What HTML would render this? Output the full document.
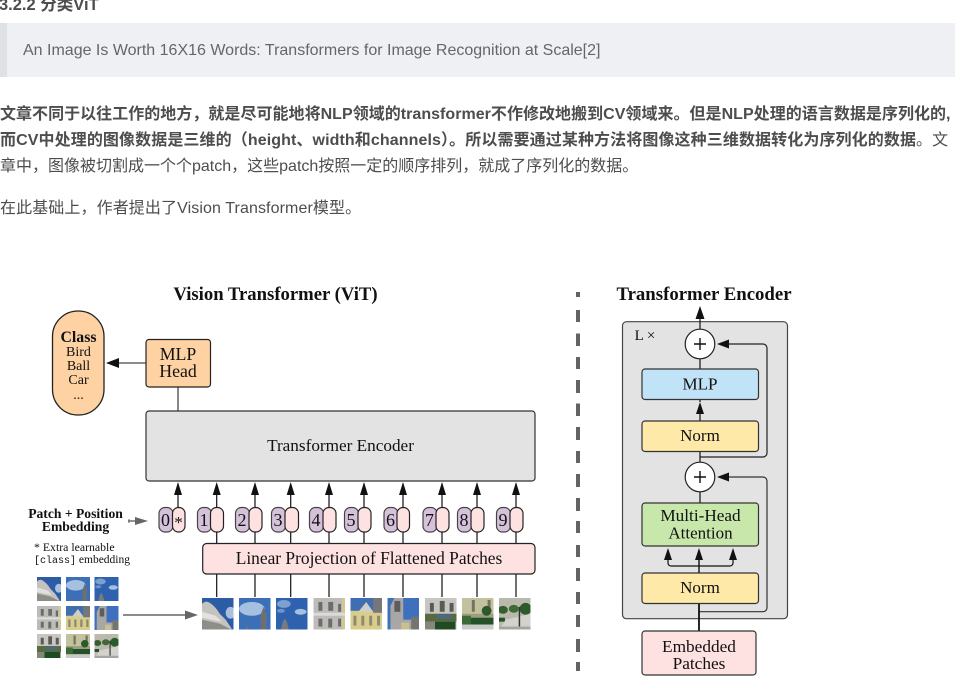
<!DOCTYPE html>
<html lang="zh">
<head>
<meta charset="utf-8">
<style>
html,body{margin:0;padding:0;background:#fff;}
body{width:955px;height:691px;overflow:hidden;position:relative;font-family:"Liberation Sans","Noto Sans CJK SC",sans-serif;color:#4d4d4d;}
.l{position:absolute;white-space:nowrap;font-size:16px;line-height:26px;}
b{font-weight:700;}
#q{position:absolute;left:0;top:23px;width:955px;height:54px;background:#eef0f4;}
#q i{position:absolute;left:0;top:0;width:7px;height:54px;background:#dfe2e5;}
svg{position:absolute;left:0;top:0;filter:blur(.35px);}
svg text{font-family:"Liberation Serif",serif;fill:#111;text-anchor:middle;}
</style>
</head>
<body>
<div class="l" style="left:-1px;top:-8px;font-weight:700;font-size:16.500px;">3.2.2 分类ViT</div>
<div id="q"><i></i></div>
<div class="l" style="left:23px;top:38px;color:#666;">An Image Is Worth 16X16 Words: Transformers for Image Recognition at Scale[2]</div>
<div class="l" style="left:0;top:102px;font-weight:700;letter-spacing:.03px;">文章不同于以往工作的地方，就是尽可能地将NLP领域的transformer不作修改地搬到CV领域来。但是NLP处理的语言数据是序列化的,</div>
<div class="l" style="left:0;top:128px;letter-spacing:.1px;"><b>而CV中处理的图像数据是三维的（height、width和channels）。所以需要通过某种方法将图像这种三维数据转化为序列化的数据</b>。文</div>
<div class="l" style="left:0;top:154px;">章中，图像被切割成一个个patch，这些patch按照一定的顺序排列，就成了序列化的数据。</div>
<div class="l" style="left:0;top:196px;letter-spacing:.1px;">在此基础上，作者提出了Vision Transformer模型。</div>

<svg width="955" height="691" viewBox="0 0 955 691" xmlns="http://www.w3.org/2000/svg">
<defs>
<symbol id="p1" viewBox="0 0 32 32"><rect width="32" height="32" fill="#2c5ca6"/><ellipse cx="29" cy="15" rx="5" ry="6" fill="#a9c0dc"/><path d="M0 6 Q4 2 8 5 Q14 9 18 16 L24 22 L30 31 V32 H0Z" fill="#c4c3bf"/><path d="M0 22 L18 26 L30 32 H0Z" fill="#8f8d88"/><path d="M0 14 L14 18 L20 24 L0 20Z" fill="#e4e2dc"/></symbol>
<symbol id="p2" viewBox="0 0 32 32"><rect width="32" height="32" fill="#3b6fb8"/><ellipse cx="13" cy="11" rx="13" ry="7" fill="#a6c1e0"/><path d="M22 32 V17 L25 9 L28 17 V32Z" fill="#6d6f70"/><path d="M7 32 L8 26 L9 32Z" fill="#77746f"/></symbol>
<symbol id="p3" viewBox="0 0 32 32"><rect width="32" height="32" fill="#2f62ae"/><ellipse cx="8" cy="6" rx="7" ry="4" fill="#7da0cf"/><ellipse cx="25" cy="14" rx="6" ry="3" fill="#a6c1e0"/><ellipse cx="5" cy="13" rx="4" ry="2" fill="#6e95c9"/><path d="M5 32 L7 24 L9 21 L11 24 L13 32Z" fill="#787b7e"/></symbol>
<symbol id="p4" viewBox="0 0 32 32"><rect width="32" height="32" fill="#bdbcb9"/><rect x="29" width="3" height="32" fill="#d3c88f"/><g fill="#6b6c6c"><rect x="5" y="4" width="4" height="9"/><rect x="15" y="4" width="5" height="9"/><rect x="25" y="6" width="3" height="8"/><rect x="5" y="21" width="4" height="8"/><rect x="15" y="21" width="4" height="9"/><rect x="25" y="21" width="3" height="8"/></g><rect y="15" width="32" height="3" fill="#dcdbd8"/></symbol>
<symbol id="p5" viewBox="0 0 32 32"><rect width="32" height="32" fill="#d9cd8e"/><rect width="32" height="13" fill="#3f6fb0"/><path d="M8 14 L16 4 L23 14Z" fill="#cfcfc8"/><rect x="23" y="0" width="9" height="15" fill="#77777a"/><g fill="#8d8a70"><rect x="3" y="18" width="3" height="10"/><rect x="11" y="18" width="3" height="10"/><rect x="19" y="18" width="3" height="10"/><rect x="27" y="18" width="3" height="10"/></g></symbol>
<symbol id="p6" viewBox="0 0 32 32"><rect width="32" height="32" fill="#3e70bd"/><path d="M3 32 V8 L7 0 H16 V22 H32 V32Z" fill="#a8a7a3"/><rect x="7" y="3" width="6" height="11" fill="#5c5d60"/><rect x="24" y="19" width="8" height="13" fill="#75756f"/><rect x="14" y="25" width="8" height="7" fill="#c9c092"/></symbol>
<symbol id="p7" viewBox="0 0 32 32"><rect width="32" height="32" fill="#c8c6c0"/><rect x="5" y="5" width="4" height="9" fill="#5a5a58"/><rect x="15" y="3" width="5" height="11" fill="#5a5a58"/><rect x="25" y="5" width="4" height="9" fill="#5a5a58"/><rect y="16" width="32" height="8" fill="#586a3f"/><rect x="12" y="17" width="15" height="4" fill="#496a86"/><rect x="10" y="24" width="21" height="8" fill="#1f4a22"/><rect y="24" width="10" height="8" fill="#85877a"/></symbol>
<symbol id="p8" viewBox="0 0 32 32"><rect width="32" height="32" fill="#c4c19e"/><rect x="10" y="2" width="3" height="12" fill="#73735f"/><rect x="26" y="2" width="3" height="12" fill="#73735f"/><rect y="16" width="32" height="4" fill="#9ba080"/><ellipse cx="25" cy="13" rx="5" ry="5" fill="#2d5a2c"/><rect y="20" width="32" height="7" fill="#24512a"/><rect x="0" y="18" width="9" height="9" fill="#3b6a37"/><rect y="27" width="32" height="5" fill="#c9cbc6"/></symbol>
<symbol id="p9" viewBox="0 0 32 32"><rect width="32" height="32" fill="#b9b9ae"/><ellipse cx="4" cy="12" rx="5" ry="4" fill="#375f2e"/><ellipse cx="15" cy="11" rx="5" ry="4" fill="#3f6a33"/><ellipse cx="27" cy="11" rx="6" ry="6" fill="#2d5a2c"/><path d="M0 20 H6 V24 H0Z" fill="#274f29"/><path d="M0 32 L7 22 L32 16 V32Z" fill="#d3d2cb"/><rect x="20" y="9" width="1.500" height="20" fill="#333"/><rect y="29" width="32" height="3" fill="#a5a6a4"/></symbol>
</defs>

<!-- divider -->
<path d="M578 292V297M578 310V322M578 333.500V346M578 357V369M578 380V393M578 403.500V416M578 427V440M578 451V463M578 474V487M578 498V511M578 521V533M578 545V557M578 568V581M578 592V604M578 615V627M578 639V652M578 662V671" stroke="#636363" stroke-width="4" fill="none"/>

<!-- titles -->
<text x="275.500" y="300" font-size="18.700" font-weight="700">Vision Transformer (ViT)</text>
<text x="704" y="300" font-size="18.800" font-weight="700">Transformer Encoder</text>

<!-- class pill -->
<rect x="52.500" y="311" width="51.500" height="104" rx="25.500" fill="#fed2a2" stroke="#222" stroke-width="1.300"/>
<text x="78.500" y="342" font-size="15.800" font-weight="700">Class</text>
<text x="78.500" y="356" font-size="14">Bird</text>
<text x="78.500" y="370" font-size="14">Ball</text>
<text x="78.500" y="384" font-size="14">Car</text>
<text x="78.500" y="399" font-size="14">...</text>

<!-- MLP head -->
<line x1="146" y1="363" x2="116" y2="363" stroke="#666" stroke-width="1.600"/>
<path d="M106 363 L119 358 V368Z" fill="#111"/>
<line x1="178" y1="387" x2="178" y2="411" stroke="#555" stroke-width="1.400"/>
<rect x="146" y="339.500" width="64.500" height="47.500" rx="3" fill="#fed2a2" stroke="#222" stroke-width="1.200"/>
<text x="178" y="360" font-size="17.800">MLP</text>
<text x="178" y="377" font-size="17.800">Head</text>

<!-- encoder -->
<rect x="146" y="411" width="389" height="70" rx="3" fill="#e3e3e3" stroke="#333" stroke-width="1.200"/>
<text x="340.500" y="451" font-size="17.200">Transformer Encoder</text>

<!-- arrows above tokens and lines to patches -->
<g stroke="#111" stroke-width="1.200" fill="none">
<path d="M178 495V508M216.700 495V508M255 495V508M290.700 495V508M329 495V508M364 495V508M403 495V508M442 495V508M477 495V508M516 495V508"/>
<path d="M216.700 532V543M255 532V543M290.700 532V543M329 532V543M364 532V543M403 532V543M442 532V543M477 532V543M516 532V543"/>
<path d="M216.700 574V597M255 574V597M290.700 574V597M329 574V597M364 574V597M403 574V597M442 574V597M477 574V597M516 574V597"/>
</g>
<g fill="#111">
<path d="M178 482l-4 13h8z"/><path d="M216.700 482l-4 13h8z"/><path d="M255 482l-4 13h8z"/><path d="M290.700 482l-4 13h8z"/><path d="M329 482l-4 13h8z"/><path d="M364 482l-4 13h8z"/><path d="M403 482l-4 13h8z"/><path d="M442 482l-4 13h8z"/><path d="M477 482l-4 13h8z"/><path d="M516 482l-4 13h8z"/>
</g>

<!-- tokens -->
<g stroke-width="1.200">
<g fill="#d5c1d9" stroke="#444">
<rect x="159" y="507.500" width="14" height="24.500" rx="6"/>
<rect x="197.500" y="507.500" width="14" height="24.500" rx="6"/>
<rect x="235.500" y="507.500" width="14" height="24.500" rx="6"/>
<rect x="271.500" y="507.500" width="14" height="24.500" rx="6"/>
<rect x="309.500" y="507.500" width="14" height="24.500" rx="6"/>
<rect x="344.500" y="507.500" width="14" height="24.500" rx="6"/>
<rect x="384" y="507.500" width="14" height="24.500" rx="6"/>
<rect x="423" y="507.500" width="14" height="24.500" rx="6"/>
<rect x="457.500" y="507.500" width="14" height="24.500" rx="6"/>
<rect x="496.500" y="507.500" width="14" height="24.500" rx="6"/>
</g>
<g fill="#fee1e1" stroke="#222">
<rect x="172.500" y="507.500" width="12.500" height="24.500" rx="6"/>
<rect x="210.500" y="507.500" width="13" height="24.500" rx="6"/>
<rect x="249" y="507.500" width="13" height="24.500" rx="6"/>
<rect x="285" y="507.500" width="13.500" height="24.500" rx="6"/>
<rect x="323" y="507.500" width="13" height="24.500" rx="6"/>
<rect x="358" y="507.500" width="13" height="24.500" rx="6"/>
<rect x="397" y="507.500" width="12.500" height="24.500" rx="6"/>
<rect x="436" y="507.500" width="13" height="24.500" rx="6"/>
<rect x="471" y="507.500" width="13" height="24.500" rx="6"/>
<rect x="510" y="507.500" width="13" height="24.500" rx="6"/>
</g>
</g>
<g font-size="18">
<text x="165.500" y="526">0</text>
<text x="204" y="526">1</text>
<text x="242" y="526">2</text>
<text x="278" y="526">3</text>
<text x="316" y="526">4</text>
<text x="351" y="526">5</text>
<text x="390.500" y="526">6</text>
<text x="429.500" y="526">7</text>
<text x="464" y="526">8</text>
<text x="503" y="526">9</text>
<text x="178.500" y="528" font-size="17">*</text>
</g>

<!-- linear projection -->
<rect x="202.700" y="543.500" width="332.300" height="30.500" rx="4" fill="#fee1e1" stroke="#222" stroke-width="1.200"/>
<text x="369" y="564" font-size="17.400">Linear Projection of Flattened Patches</text>

<!-- left labels -->
<text x="75.500" y="518" font-size="13.600" font-weight="700">Patch + Position</text>
<text x="75.500" y="531" font-size="13.600" font-weight="700">Embedding</text>
<text x="34" y="551" font-size="11.800" style="text-anchor:start">* Extra learnable</text>
<text x="34" y="563" font-size="11.500" style="text-anchor:start"><tspan font-family="Liberation Mono" font-size="10">[class]</tspan> embedding</text>
<line x1="128" y1="521" x2="140" y2="521" stroke="#666" stroke-width="1.400"/>
<line x1="129" y1="519" x2="129" y2="523" stroke="#666" stroke-width="1"/>
<path d="M148 521 L135 517 V525Z" fill="#666"/>

<!-- grid patches -->
<use href="#p1" x="37" y="577" width="24" height="24"/>
<use href="#p2" x="66" y="577" width="24" height="24"/>
<use href="#p3" x="94.500" y="577" width="24" height="24"/>
<use href="#p4" x="37" y="606" width="24" height="24"/>
<use href="#p5" x="66" y="606" width="24" height="24"/>
<use href="#p6" x="94.500" y="606" width="24" height="24"/>
<use href="#p7" x="37" y="634" width="24" height="24"/>
<use href="#p8" x="66" y="634" width="24" height="24"/>
<use href="#p9" x="94.500" y="634" width="24" height="24"/>
<line x1="123" y1="615" x2="187" y2="615" stroke="#666" stroke-width="1.400"/>
<path d="M198 615 L185 610.500 V619.500Z" fill="#666"/>

<!-- patch sequence -->
<use href="#p1" x="202" y="598" width="31.500" height="31.500"/>
<use href="#p2" x="239" y="598" width="31.500" height="31.500"/>
<use href="#p3" x="276" y="598" width="31.500" height="31.500"/>
<use href="#p4" x="313.500" y="598" width="31.500" height="31.500"/>
<use href="#p5" x="350.500" y="598" width="31.500" height="31.500"/>
<use href="#p6" x="387.500" y="598" width="31.500" height="31.500"/>
<use href="#p7" x="425" y="598" width="31.500" height="31.500"/>
<use href="#p8" x="462" y="598" width="31.500" height="31.500"/>
<use href="#p9" x="499" y="598" width="31.500" height="31.500"/>

<!-- right encoder -->
<rect x="622.500" y="321.700" width="165" height="297" rx="4" fill="#e3e3e3" stroke="#444" stroke-width="1.200"/>
<text x="645" y="340" font-size="15">L ×</text>
<line x1="700" y1="318" x2="700" y2="329" stroke="#111" stroke-width="1.200"/>
<path d="M700 306l-4.500 13h9z" fill="#111"/>
<path d="M727 344H763a4 4 0 0 1 4 4V453a4 4 0 0 1-4 4H700" fill="none" stroke="#222" stroke-width="1.200"/>
<path d="M717 344l12-4.500v9z" fill="#111"/>
<path d="M727 477H763a4 4 0 0 1 4 4V607.700a4 4 0 0 1-4 4H699" fill="none" stroke="#333" stroke-width="1.200"/>
<path d="M717 477l12-4.500v9z" fill="#111"/>
<g stroke="#111" stroke-width="1.200" fill="none">
<path d="M700 359V369M700 399V402M700 414V421M700 451V462M700 492V503"/>
<path d="M668 558V563a3 3 0 0 0 3 3H730a3 3 0 0 0 3-3V558"/>
<path d="M699 558V573" stroke-width="1.400"/>
</g>
<path d="M699 603.500V631" stroke="#111" stroke-width="1.800"/>
<path d="M700 402l-4 12h8z" fill="#111"/>
<path d="M668 548l-4 12h8z" fill="#111"/><path d="M699 548l-4 12h8z" fill="#111"/><path d="M733 548l-4 12h8z" fill="#111"/>
<g fill="#fff" stroke="#222" stroke-width="1.200"><circle cx="700" cy="344" r="14.800"/><circle cx="700" cy="477" r="14.800"/></g>
<path d="M694 344h12M700 338v12M694 477h12M700 471v12" stroke="#111" stroke-width="1.400"/>
<rect x="642" y="369" width="116.500" height="30.500" rx="3" fill="#c1e3f7" stroke="#333" stroke-width="1.200"/>
<text x="700" y="389.500" font-size="17">MLP</text>
<rect x="642" y="421" width="116.500" height="30.500" rx="3" fill="#fee9a8" stroke="#333" stroke-width="1.200"/>
<text x="700" y="441" font-size="17">Norm</text>
<rect x="642" y="503" width="116.500" height="43" rx="3" fill="#c7e7ab" stroke="#333" stroke-width="1.200"/>
<text x="700.500" y="521" font-size="17.200">Multi-Head</text>
<text x="700.500" y="538.500" font-size="17">Attention</text>
<rect x="642" y="573" width="116.500" height="30.500" rx="3" fill="#fee9a8" stroke="#333" stroke-width="1.200"/>
<text x="700" y="593" font-size="17">Norm</text>
<rect x="642" y="631" width="114" height="44" rx="3" fill="#fee1e1" stroke="#333" stroke-width="1.200"/>
<text x="699" y="652" font-size="17.300">Embedded</text>
<text x="699" y="669" font-size="17.300">Patches</text>
</svg>
</body>
</html>
